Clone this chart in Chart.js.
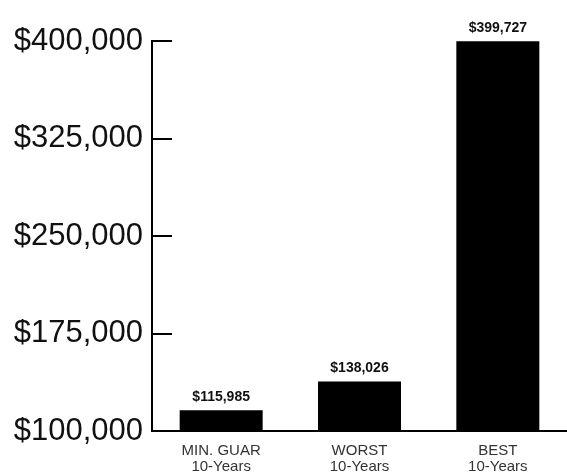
<!DOCTYPE html>
<html>
<head>
<meta charset="utf-8">
<script src="https://cdn.jsdelivr.net/npm/chart.js@4"></script>
<style>
  body { margin: 0; background: #fff; }
  #wrap { width: 567px; height: 472px; }
</style>
</head>
<body>
<div id="wrap"><canvas id="valueChart" width="567" height="472"></canvas></div>
<script>
const categories = [["MIN. GUAR", "10-Years"], ["WORST", "10-Years"], ["BEST", "10-Years"]];
const values = [115985, 138026, 399727];
const yTicks = [100000, 175000, 250000, 325000, 400000];

const money = v => "$" + v.toLocaleString("en-US");

// bold value labels above each bar + short tick marks inside the axis
const barLabels = {
  id: "barLabels",
  afterDatasetsDraw(chart) {
    const ctx = chart.ctx;
    const meta = chart.getDatasetMeta(0);
    ctx.save();
    ctx.fillStyle = "#111";
    ctx.font = "bold 14px 'Liberation Sans', Arial, sans-serif";
    ctx.textAlign = "center";
    ctx.textBaseline = "bottom";
    meta.data.forEach((bar, i) => {
      ctx.fillText(money(values[i]), bar.x, bar.y - 6);
    });
    // inner tick marks
    const y = chart.scales.y;
    ctx.strokeStyle = "#000";
    ctx.lineWidth = 2;
    yTicks.slice(1).forEach(t => {
      const py = Math.round(y.getPixelForValue(t));
      ctx.beginPath();
      ctx.moveTo(chart.chartArea.left, py);
      ctx.lineTo(chart.chartArea.left + 20, py);
      ctx.stroke();
    });
    ctx.restore();
  }
};

new Chart(document.getElementById("valueChart"), {
  type: "bar",
  data: {
    labels: categories,
    datasets: [{
      data: values,
      backgroundColor: "#000",
      barPercentage: 0.6,
      categoryPercentage: 1.0
    }]
  },
  options: {
    responsive: false,
    animation: false,
    layout: { padding: { top: 41, right: 0, left: 0, bottom: 0 } },
    plugins: { legend: { display: false }, tooltip: { enabled: false } },
    scales: {
      x: {
        afterFit: s => { s.height = 41; },
        grid: { display: false, drawTicks: false },
        border: { display: true, color: "#000", width: 2 },
        ticks: {
          padding: 12,
          color: "#333",
          font: { family: "'Liberation Sans', Arial, sans-serif", size: 15, lineHeight: 1.07 }
        }
      },
      y: {
        min: 100000,
        max: 400000,
        afterFit: s => { s.width = 152; },
        afterBuildTicks: s => { s.ticks = yTicks.map(v => ({ value: v })); },
        grid: { display: false, drawTicks: false },
        border: { display: true, color: "#000", width: 2 },
        ticks: {
          padding: 9,
          color: "#111",
          font: { family: "'Liberation Sans', Arial, sans-serif", size: 31 },
          callback: v => money(v)
        }
      }
    }
  },
  plugins: [barLabels]
});
</script>
</body>
</html>
